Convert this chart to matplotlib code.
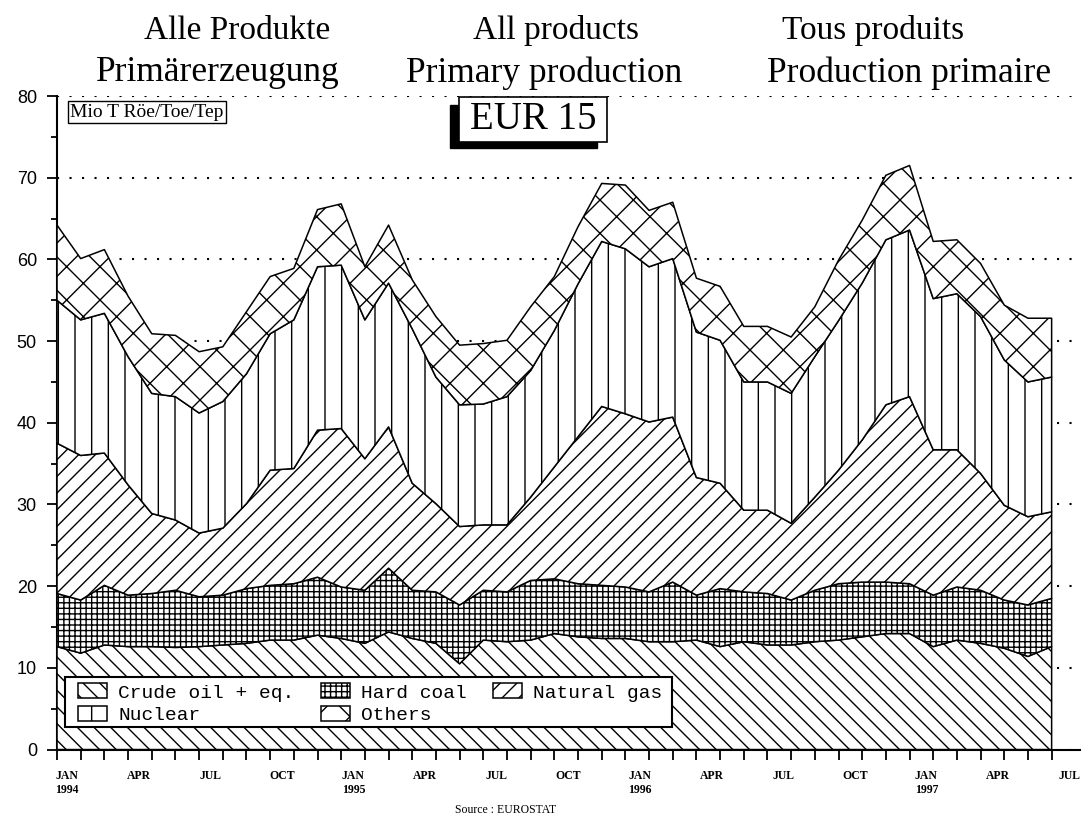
import numpy as np
import matplotlib
matplotlib.use("Agg")
import matplotlib.pyplot as plt
from matplotlib.patches import Rectangle

# Primärerzeugung EUR 15, Mio t RÖE, Jan 1994 - Jul 1997 (monatlich)
months = ["JAN\n1994", "APR", "JUL", "OCT", "JAN\n1995", "APR", "JUL", "OCT",
          "JAN\n1996", "APR", "JUL", "OCT", "JAN\n1997", "APR", "JUL"]

crude = [12.6, 11.8, 12.8, 12.6, 12.6, 12.5, 12.6, 12.8, 13.0, 13.4, 13.4, 14.0,
         13.6, 13.0, 14.4, 13.6, 13.0, 10.5, 13.4, 13.2, 13.4, 14.2, 13.8, 13.6,
         13.6, 13.2, 13.2, 13.4, 12.6, 13.2, 12.8, 12.8, 13.2, 13.4, 13.8, 14.2,
         14.2, 12.6, 13.4, 13.0, 12.4, 11.4, 12.6]
coal = [6.5, 6.5, 7.3, 6.3, 6.5, 7.0, 6.1, 6.1, 6.7, 6.7, 6.9, 7.1,
        6.3, 6.5, 7.8, 5.9, 6.3, 7.2, 6.1, 6.1, 7.3, 6.7, 6.5, 6.5,
        6.3, 6.1, 7.3, 5.5, 7.1, 6.1, 6.3, 5.5, 6.3, 6.9, 6.7, 6.3,
        6.1, 6.3, 6.5, 6.5, 5.9, 6.3, 5.9]
gas = [18.4, 17.7, 16.2, 13.5, 9.8, 8.6, 7.8, 8.2, 10.4, 14.1, 14.1, 18.0,
       19.4, 16.1, 17.3, 13.1, 10.8, 9.6, 8.0, 8.2, 10.2, 13.7, 18.0, 21.9,
       21.2, 20.8, 20.2, 14.4, 12.9, 10.0, 10.2, 9.4, 11.4, 13.9, 17.4, 21.7,
       22.9, 17.8, 16.8, 14.3, 11.6, 10.8, 10.6]
nuclear = [17.5, 16.6, 17.1, 15.7, 14.7, 15.1, 14.7, 15.5, 15.9, 16.7, 18.2, 20.0,
           20.0, 17.0, 17.6, 18.9, 15.5, 14.9, 14.8, 15.7, 15.5, 16.7, 18.7, 20.2,
           20.2, 19.0, 19.4, 17.8, 17.5, 15.7, 15.7, 15.9, 17.2, 18.3, 19.2, 20.2,
           20.4, 18.5, 19.1, 19.2, 17.8, 16.5, 16.5]
others = [9.2, 7.5, 7.8, 7.4, 7.3, 7.5, 7.5, 6.7, 7.6, 7.0, 6.3, 7.0,
          7.5, 6.5, 7.1, 6.0, 7.4, 7.3, 7.4, 6.9, 7.8, 6.6, 7.0, 7.1,
          7.8, 6.9, 6.9, 6.6, 6.6, 6.8, 6.8, 6.9, 6.1, 7.4, 7.7, 7.9,
          7.9, 7.0, 6.6, 6.5, 6.7, 7.8, 7.2]

labels = ["Crude oil + eq.", "Hard coal", "Natural gas", "Nuclear", "Others"]
hatches = ["\\\\", "+++", "//", "|", "x"]

x = np.arange(len(crude))

serif = "Liberation Serif"
plt.rcParams["hatch.linewidth"] = 1.0

fig = plt.figure(figsize=(10.82, 8.18), dpi=100)
ax = fig.add_axes([0.0527, 0.0837, 0.9455, 0.7989])

polys = ax.stackplot(x, crude, coal, gas, nuclear, others,
                     colors=["white"] * 5, hatch=hatches,
                     edgecolor="black", linewidth=1.1, zorder=3)

ax.set_xlim(0, 43.2)
ax.set_ylim(0, 80)

# y-Achse
ax.set_yticks(np.arange(0, 81, 10))
ax.set_yticks(np.arange(0, 81, 5), minor=True)
ax.tick_params(axis="y", which="major", length=7.5, width=1.3, labelsize=13, pad=7)
ax.tick_params(axis="y", which="minor", length=4, width=1.3)
for t in ax.get_yticklabels():
    t.set_fontfamily("Liberation Sans")
ax.grid(axis="y", which="major", color="black", linestyle=(0, (1, 5)), linewidth=1.5)
ax.set_axisbelow(True)

# x-Achse: Monatsstriche + Quartalsbeschriftung
ax.set_xticks(x)
ax.set_xticklabels([])
ax.tick_params(axis="x", which="major", length=7, width=1.3, direction="out")
lab_pos = [i * 1.008 + 0.42 for i in range(0, len(x), 3)]
ax.set_xticks(lab_pos, minor=True)
ax.set_xticklabels(months, minor=True, fontfamily=serif, fontsize=8.5,
                   fontweight="bold", linespacing=1.15)
ax.tick_params(axis="x", which="minor", length=0, pad=15)

for s in ["top", "right"]:
    ax.spines[s].set_visible(False)
ax.spines["left"].set_linewidth(1.5)
ax.spines["bottom"].set_linewidth(1.5)

# Legende (Rahmen separat gezeichnet)
fig.add_artist(Rectangle((0.0601, 0.1112), 0.561, 0.0611, transform=fig.transFigure,
                         fc="white", ec="black", lw=1.5, zorder=9))
order = [0, 3, 1, 4, 2]
leg = ax.legend([polys[i] for i in order], [labels[i] for i in order],
                ncol=3, loc="upper left", bbox_to_anchor=(0.0721, 0.1645),
                bbox_transform=fig.transFigure, borderaxespad=0, borderpad=0,
                prop={"family": "Liberation Mono", "size": 14},
                handlelength=1.5, handleheight=0.8, handletextpad=0.57,
                columnspacing=1.35, labelspacing=0.22, frameon=False)
leg.set_zorder(10)
fig.add_artist(leg)

# Titel
fig.text(0.219, 0.963, "Alle Produkte", ha="center", va="center", fontfamily=serif, fontsize=24)
fig.text(0.514, 0.963, "All products", ha="center", va="center", fontfamily=serif, fontsize=24)
fig.text(0.807, 0.963, "Tous produits", ha="center", va="center", fontfamily=serif, fontsize=24)
fig.text(0.201, 0.911, "Primärerzeugung", ha="center", va="center", fontfamily=serif, fontsize=25.5)
fig.text(0.503, 0.911, "Primary production", ha="center", va="center", fontfamily=serif, fontsize=25.5)
fig.text(0.840, 0.911, "Production primaire", ha="center", va="center", fontfamily=serif, fontsize=25.5)

fig.text(0.065, 0.863, "Mio T Röe/Toe/Tep", ha="left", va="center", fontfamily=serif,
         fontsize=14, zorder=10,
         bbox=dict(boxstyle="square,pad=0.12", fc="white", ec="black", lw=1))

# EUR 15 Kasten mit Schatten
fig.add_artist(Rectangle((0.4159, 0.8191), 0.1359, 0.0526, transform=fig.transFigure,
                         fc="black", ec="black", zorder=9))
fig.add_artist(Rectangle((0.4242, 0.8264), 0.1368, 0.055, transform=fig.transFigure,
                         fc="white", ec="black", lw=1.2, zorder=10))
fig.text(0.4926, 0.8545, "EUR 15", ha="center", va="center", fontfamily=serif,
         fontsize=28, zorder=11)

fig.text(0.467, 0.0098, "Source : EUROSTAT", ha="center", va="center",
         fontfamily=serif, fontsize=8.5)

fig.savefig("out.png", dpi=100)
